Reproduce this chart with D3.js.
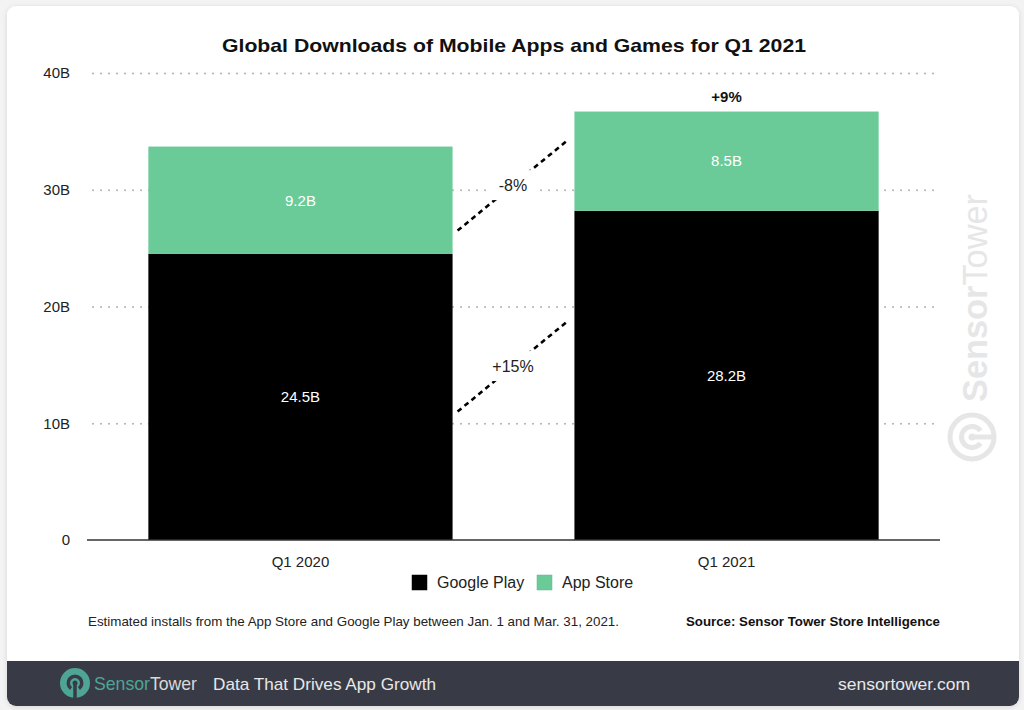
<!DOCTYPE html>
<html>
<head>
<meta charset="utf-8">
<script src="https://cdn.jsdelivr.net/npm/d3@7"></script>
<style>
  html, body { margin: 0; padding: 0; background: #f3f3f3; }
  svg { display: block; }
  text { font-family: "Liberation Sans", Arial, Helvetica, sans-serif; }
</style>
</head>
<body>
<svg id="chart" width="1024" height="710"></svg>
<script>
const categories = ["Q1 2020", "Q1 2021"];
const googlePlay = [24.5, 28.2];
const appStore = [9.2, 8.5];
const totalGrowth = ["", "+9%"];
const yTicks = [0, 10, 20, 30, 40];
const seriesNames = ["Google Play", "App Store"];
const connectorLabels = ["-8%", "+15%"];
const connectorFrom = [26.5, 11.0];
const connectorTo = [34.3, 18.8];

const colors = { "Google Play": "#000000", "App Store": "#6acb98" };

const svg = d3.select("#chart");
const W = 1024, H = 710;

// card with shadow
const defs = svg.append("defs");
const f = defs.append("filter").attr("id", "sh").attr("x", "-5%").attr("y", "-5%").attr("width", "110%").attr("height", "110%");
f.append("feDropShadow").attr("dx", 0).attr("dy", 1).attr("stdDeviation", 2.5).attr("flood-color", "#000").attr("flood-opacity", 0.12);
const clip = defs.append("clipPath").attr("id", "cardclip");
clip.append("rect").attr("x", 7).attr("y", 6).attr("width", 1012).attr("height", 700).attr("rx", 9);

svg.append("rect").attr("x", 7).attr("y", 6).attr("width", 1012).attr("height", 700).attr("rx", 9)
  .attr("fill", "#fff").attr("filter", "url(#sh)");

// banner
svg.append("rect").attr("x", 7).attr("y", 661).attr("width", 1012).attr("height", 45)
  .attr("fill", "#383b46").attr("clip-path", "url(#cardclip)");

// scales
const x = d3.scaleBand().domain(categories).range([87, 940]).paddingInner(0.286).paddingOuter(0.144);
const y = d3.scaleLinear().domain([0, 40]).range([540, 73]);

// title
svg.append("text").attr("x", 514).attr("y", 52).attr("text-anchor", "middle")
  .attr("font-size", 19).attr("font-weight", "bold").attr("fill", "#111")
  .attr("textLength", 584).attr("lengthAdjust", "spacingAndGlyphs")
  .text("Global Downloads of Mobile Apps and Games for Q1 2021");

// watermark
const wm = svg.append("g").attr("transform", "translate(987,402) rotate(-90)");
wm.append("text").attr("x", 0).attr("y", 0).attr("font-family", "'Open Sans', sans-serif")
  .attr("font-size", 35).attr("fill", "#e6e6e6")
  .attr("textLength", 208).attr("lengthAdjust", "spacingAndGlyphs")
  .call(t => {
    t.append("tspan").attr("font-weight", "bold").text("Sensor");
    t.append("tspan").attr("font-weight", "normal").text("Tower");
  });
const wl = svg.append("g").attr("transform", "translate(972,437)");
wl.append("circle").attr("r", 22).attr("fill", "none").attr("stroke", "#e6e6e6").attr("stroke-width", 5);
wl.append("path").attr("d", d3.arc()({innerRadius: 8, outerRadius: 13, startAngle: Math.PI * 0.2 + Math.PI / 2, endAngle: Math.PI * 1.8 + Math.PI / 2}))
  .attr("fill", "#e6e6e6");
wl.append("line").attr("x1", 0).attr("y1", 0).attr("x2", 22).attr("y2", 0).attr("stroke", "#e6e6e6").attr("stroke-width", 5);
wl.append("circle").attr("r", 3.5).attr("fill", "#e6e6e6");

// y axis with grid
const yAxis = d3.axisLeft(y).tickValues(yTicks).tickSize(-(934 - 93)).tickPadding(23)
  .tickFormat(d => d === 0 ? "0" : d + "B");
const gy = svg.append("g").attr("transform", "translate(93,0)").call(yAxis);
gy.select(".domain").remove();
gy.selectAll(".tick line")
  .attr("stroke", "#b5b5b5").attr("stroke-width", 2.2).attr("stroke-linecap", "round")
  .attr("stroke-dasharray", "0,8")
  .attr("display", d => d === 0 ? "none" : null);
gy.selectAll(".tick text").attr("font-size", 15).attr("fill", "#222")
  .attr("font-family", "'Liberation Sans', Arial, sans-serif");

// stacked bars
const rows = categories.map((c, i) => ({ cat: c, "Google Play": googlePlay[i], "App Store": appStore[i] }));
const stack = d3.stack().keys(seriesNames)(rows);
const layers = svg.append("g").selectAll("g").data(stack).join("g")
  .attr("fill", d => colors[d.key]);
layers.selectAll("rect").data(d => d).join("rect")
  .attr("x", d => x(d.data.cat))
  .attr("width", x.bandwidth())
  .attr("y", d => y(d[1]))
  .attr("height", d => y(d[0]) - y(d[1]));

// segment labels
stack.forEach(layer => {
  svg.append("g").selectAll("text").data(layer).join("text")
    .attr("x", d => x(d.data.cat) + x.bandwidth() / 2)
    .attr("y", d => (y(d[0]) + y(d[1])) / 2)
    .attr("dy", "0.35em")
    .attr("text-anchor", "middle")
    .attr("font-size", 15).attr("fill", "#fff")
    .text(d => d3.format(".1f")(d[1] - d[0]) + "B");
});

// total growth labels
svg.append("g").selectAll("text").data(categories).join("text")
  .attr("x", d => x(d) + x.bandwidth() / 2)
  .attr("y", (d, i) => y(googlePlay[i] + appStore[i]) - 10)
  .attr("text-anchor", "middle")
  .attr("font-size", 15).attr("font-weight", "bold").attr("fill", "#111")
  .text((d, i) => totalGrowth[i]);

// axis baseline
svg.append("line").attr("x1", 87).attr("x2", 940).attr("y1", y(0)).attr("y2", y(0))
  .attr("stroke", "#333").attr("stroke-width", 1.5);

// x labels
const xAxis = d3.axisBottom(x).tickSize(0).tickPadding(16);
const gx = svg.append("g").attr("transform", `translate(0,${y(0)})`).call(xAxis);
gx.select(".domain").remove();
gx.selectAll(".tick text").attr("font-size", 15).attr("fill", "#222")
  .attr("font-family", "'Liberation Sans', Arial, sans-serif");

// connectors
const cx1 = x(categories[0]) + x.bandwidth() + 5;
const cx2 = x(categories[1]) - 6;
connectorLabels.forEach((lab, i) => {
  const g = svg.append("g");
  const y1 = y(connectorFrom[i]), y2 = y(connectorTo[i]);
  g.append("line").attr("x1", cx1).attr("y1", y1).attr("x2", cx2).attr("y2", y2)
    .attr("stroke", "#000").attr("stroke-width", 2.6).attr("stroke-dasharray", "5,4");
  const mx = (cx1 + cx2) / 2, my = (y1 + y2) / 2;
  g.append("rect").attr("x", mx - 26).attr("y", my - 15).attr("width", 52).attr("height", 30).attr("fill", "#fff");
  g.append("text").attr("x", mx).attr("y", my).attr("dy", "0.35em").attr("text-anchor", "middle")
    .attr("font-size", 16).attr("fill", "#222").text(lab);
});

// legend
const legendX = [412, 537];
const lg = svg.append("g").selectAll("g").data(seriesNames).join("g")
  .attr("transform", (d, i) => `translate(${legendX[i]},575)`);
lg.append("rect").attr("width", 15).attr("height", 15).attr("fill", d => colors[d])
  .attr("stroke", d => d3.color(colors[d]).darker(0.3)).attr("stroke-width", 0.5);
lg.append("text").attr("x", 25).attr("y", 7.5).attr("dy", "0.35em")
  .attr("font-size", 16).attr("fill", "#222").text(d => d);

// footer
svg.append("text").attr("x", 88).attr("y", 626).attr("font-size", 13).attr("fill", "#222")
  .attr("textLength", 531).attr("lengthAdjust", "spacingAndGlyphs")
  .text("Estimated installs from the App Store and Google Play between Jan. 1 and Mar. 31, 2021.");
svg.append("text").attr("x", 686).attr("y", 626).attr("font-size", 13).attr("font-weight", "bold").attr("fill", "#111")
  .attr("textLength", 254).attr("lengthAdjust", "spacingAndGlyphs")
  .text("Source: Sensor Tower Store Intelligence");

// banner content
const logo = svg.append("g").attr("transform", "translate(75,683)");
logo.append("circle").attr("r", 15).attr("fill", "#4ea596");
logo.append("path").attr("d", d3.arc()({innerRadius: 5, outerRadius: 8.5, startAngle: Math.PI * 1.2, endAngle: Math.PI * 2.8}))
  .attr("fill", "#383b46");
logo.append("line").attr("x1", 0).attr("y1", 0).attr("x2", 0).attr("y2", 15).attr("stroke", "#383b46").attr("stroke-width", 3.5);
logo.append("circle").attr("r", 2.5).attr("fill", "#383b46");

svg.append("text").attr("x", 94).attr("y", 690).attr("font-family", "'Open Sans', sans-serif")
  .attr("font-size", 19).attr("textLength", 103).attr("lengthAdjust", "spacingAndGlyphs")
  .call(t => {
    t.append("tspan").attr("fill", "#4ea596").text("Sensor");
    t.append("tspan").attr("fill", "#d8d8d8").text("Tower");
  });
svg.append("text").attr("x", 213).attr("y", 690).attr("font-family", "'Open Sans', sans-serif")
  .attr("font-size", 17).attr("fill", "#e8e8e8")
  .attr("textLength", 223).attr("lengthAdjust", "spacingAndGlyphs")
  .text("Data That Drives App Growth");
svg.append("text").attr("x", 970).attr("y", 690).attr("text-anchor", "end").attr("font-family", "'Open Sans', sans-serif")
  .attr("font-size", 17).attr("fill", "#e8e8e8")
  .attr("textLength", 132).attr("lengthAdjust", "spacingAndGlyphs")
  .text("sensortower.com");
</script>
</body>
</html>
